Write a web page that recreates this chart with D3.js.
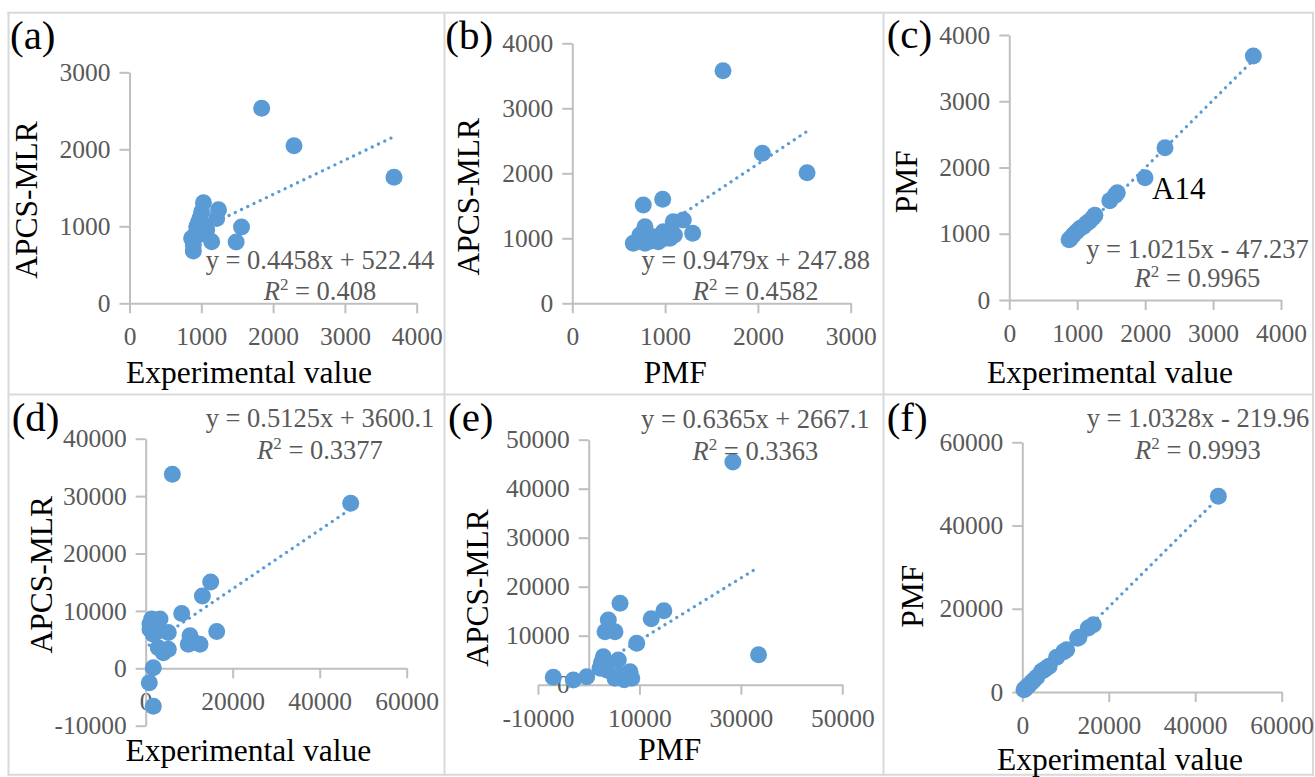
<!DOCTYPE html>
<html>
<head>
<meta charset="utf-8">
<script src="https://cdn.jsdelivr.net/npm/d3@7"></script>
<style>
    body { margin: 0; background: #fff; }
    svg text { font-family: "Liberation Serif", "Tinos", "Times New Roman", "DejaVu Serif", "Noto Serif", "FreeSerif", serif; }
</style>
</head>
<body>
<script>
// Six scatter panels, APCS-MLR / PMF / experimental values

var panelNames = ["(a)", "(b)", "(c)", "(d)", "(e)", "(f)"];
var xTitles = ["Experimental value", "PMF", "Experimental value", "Experimental value", "PMF", "Experimental value"];
var yTitles = ["APCS-MLR", "APCS-MLR", "PMF", "APCS-MLR", "APCS-MLR", "PMF"];

// (a) experimental vs APCS-MLR
var aX = [1841, 2291, 3684, 1030, 1240, 1214, 1560, 1485, 1145, 889, 982, 936, 912, 1075, 889, 1005, 866, 960, 1000, 1040];
var aY = [2532, 2047, 1636, 1305, 1215, 1100, 990, 795, 800, 680, 1104, 995, 887, 952, 757, 1190, 844, 1050, 900, 1010];

// (b) PMF vs APCS-MLR
var bX = [1624, 2048, 2530, 765, 974, 1196, 1088, 1297, 783, 981, 873, 657, 1053, 783, 927, 729, 1100, 850, 1000];
var bY = [3579, 2308, 2010, 1512, 1600, 1282, 1255, 1077, 1178, 1102, 1025, 923, 1000, 923, 948, 1051, 1050, 960, 1000];

// (c) experimental vs PMF
var cX = [3593, 2292, 1998, 1590, 1560, 1480, 1260, 1230, 1180, 1140, 1090, 1040, 990, 943, 900, 880];
var cY = [3683, 2299, 1847, 1620, 1580, 1500, 1280, 1240, 1190, 1160, 1110, 1080, 1030, 981, 930, 910];

// (d) experimental vs APCS-MLR
var dX = [6130, 47126, 14943, 13027, 8276, 16322, 10184, 12483, 9793, 5195, 1379, 3287, 989, 1747, 2897, 5195, 4046, 1747, 828, 1747, 989, 2500, 11000];
var dY = [33819, 28746, 15044, 12595, 9550, 6400, 5650, 4200, 4200, 6230, 8570, 8570, 6820, 5950, 3600, 3320, 2730, 105, -2520, -6600, 7700, 7800, 4600];

// (e) PMF vs APCS-MLR
var eX = [28426, 33486, 6174, 14821, 12324, 3866, 3215, 5187, 9467, 5838, 2880, 2229, 6174, 8146, 8479, 5187, -394, -3037, -6982, 3550, 2500, 7000];
var eY = [45442, 6122, 16612, 15102, 13469, 13204, 10816, 10816, 8449, 5041, 5714, 3347, 1980, 2653, 1306, 1306, 1633, 959, 1510, 3000, 4500, 1000];

// (f) experimental vs PMF
var fX = [45350, 16429, 15272, 13111, 10258, 7944, 5631, 4474, 3317, 2160, 1003, 386, 12800, 9600, 6200, 5000, 2700, 1500, 700];
var fY = [47017, 16181, 15380, 13137, 10172, 8330, 5767, 4966, 3524, 2323, 1201, 561, 12900, 9700, 6200, 5300, 2900, 1600, 800];

// linear trendlines as printed on the chart
var slopes = [0.4458, 0.9479, 1.0215, 0.5125, 0.6365, 1.0328];
var intercepts = [522.44, 247.88, -47.237, 3600.1, 2667.1, -219.96];
var r2 = ["0.408", "0.4582", "0.9965", "0.3377", "0.3363", "0.9993"];

var xTicks = [
    [0, 1000, 2000, 3000, 4000],
    [0, 1000, 2000, 3000],
    [0, 1000, 2000, 3000, 4000],
    [0, 20000, 40000, 60000],
    [-10000, 10000, 30000, 50000],
    [0, 20000, 40000, 60000]
];
var yTicks = [
    [0, 1000, 2000, 3000],
    [0, 1000, 2000, 3000, 4000],
    [0, 1000, 2000, 3000, 4000],
    [-10000, 0, 10000, 20000, 30000, 40000],
    [0, 10000, 20000, 30000, 40000, 50000],
    [0, 20000, 40000, 60000]
];

var pointLabels = [{ panel: 2, index: 2, text: "A14" }];

var xs = [aX, bX, cX, dX, eX, fX];
var ys = [aY, bY, cY, dY, eY, fY];

// pixel layout of every panel (plot ranges, label / title / equation spots)
var layout = [
    { x0: 129.5, x1: 416.7, y0: 303.3, y1: 72.3, lab: [10, 49.3], eq: [320, 269.3, 300], xt: [249, 382.7], yt: [36.7, 200] },
    { x0: 572.3, x1: 850.7, y0: 303.3, y1: 43.3, lab: [445.3, 49.3], eq: [755.7, 269.3, 300], xt: [675.3, 383.3], yt: [478.7, 196.7] },
    { x0: 1009.3, x1: 1281, y0: 300, y1: 35, lab: [886.7, 48.3], eq: [1197.5, 258.3, 287.3], xt: [1110, 383], yt: [916.7, 181.7] },
    { x0: 145.7, x1: 406.7, y0: 725.7, y1: 438.7, lab: [11.7, 431.3], eq: [320, 427.3, 459], xt: [248.3, 761.3], yt: [51.7, 574.7] },
    { x0: 538, x1: 842.3, y0: 684.7, y1: 439.7, lab: [448, 431.3], eq: [755.4, 428, 459.7], xt: [669.7, 759.7], yt: [488, 588] },
    { x0: 1022.3, x1: 1281.7, y0: 692, y1: 442.3, lab: [886.7, 431.3], eq: [1198, 427.3, 459], xt: [1120, 769.7], yt: [923.3, 596.3] }
];

var blue = "#5B9BD5";
var axisGray = "#BFBFBF";
var textGray = "#595959";

var svg = d3.select("body").append("svg")
    .attr("width", 1315)
    .attr("height", 777);

// whatever serif face we get, size it so "0000" is as wide as in Times
var probe = svg.append("text").attr("font-size", 100).text("0000");
var fontScale = 200 / probe.node().getComputedTextLength();
probe.remove();
function fs(px) { return (px * fontScale).toFixed(2) + "px"; }

// light frame around the six panels
var frameX = [8.5, 444.5, 883.5, 1313];
var frameY = [12.7, 394.5, 774.7];
frameX.forEach(function (x) {
    svg.append("line").attr("x1", x).attr("x2", x).attr("y1", frameY[0] - 1).attr("y2", frameY[2] + 1)
        .attr("stroke", "#D9D9D9").attr("stroke-width", 2);
});
frameY.forEach(function (y) {
    svg.append("line").attr("x1", frameX[0] - 1).attr("x2", frameX[3] + 1).attr("y1", y).attr("y2", y)
        .attr("stroke", "#D9D9D9").attr("stroke-width", 2);
});

var tickFont = 25.5;

layout.forEach(function (L, i) {
    var xt = xTicks[i], yt = yTicks[i];
    var xScale = d3.scaleLinear().domain([xt[0], xt[xt.length - 1]]).range([L.x0, L.x1]);
    var yScale = d3.scaleLinear().domain([yt[0], yt[yt.length - 1]]).range([L.y0, L.y1]);

    var g = svg.append("g").attr("class", "panel");

    // axes cross at zero; x labels sit ~42px under the axis line
    var xAxis = d3.axisBottom(xScale).tickValues(xt).tickSize(10).tickSizeOuter(0)
        .tickPadding(42 - 10 - 0.71 * tickFont * fontScale)
        .tickFormat(function (d) { return String(d); });
    var yAxis = d3.axisLeft(yScale).tickValues(yt).tickSize(10).tickSizeOuter(0).tickPadding(9)
        .tickFormat(function (d) { return String(d); });

    var xg = g.append("g").attr("transform", "translate(0," + yScale(0) + ")").call(xAxis);
    var yg = g.append("g").attr("transform", "translate(" + xScale(0) + ",0)").call(yAxis);

    [xg, yg].forEach(function (ag) {
        ag.attr("font-family", null);
        ag.select(".domain").attr("stroke", axisGray).attr("stroke-width", 2);
        ag.selectAll(".tick line").attr("stroke", axisGray).attr("stroke-width", 2);
        ag.selectAll(".tick text").attr("fill", textGray).attr("font-size", fs(tickFont));
    });

    // trendline, clipped to the plot area
    var clipId = "clip" + i;
    svg.append("clipPath").attr("id", clipId).append("rect")
        .attr("x", L.x0).attr("y", L.y1).attr("width", L.x1 - L.x0).attr("height", L.y0 - L.y1);

    var xmin = d3.min(xs[i]), xmax = d3.max(xs[i]);
    g.append("line")
        .attr("clip-path", "url(#" + clipId + ")")
        .attr("x1", xScale(xmin)).attr("y1", yScale(slopes[i] * xmin + intercepts[i]))
        .attr("x2", xScale(xmax)).attr("y2", yScale(slopes[i] * xmax + intercepts[i]))
        .attr("stroke", blue).attr("stroke-width", 3.2)
        .attr("stroke-linecap", "round").attr("stroke-dasharray", "0.1 6.8");

    // points
    g.selectAll(".dot")
        .data(xs[i].map(function (x, k) { return { x: x, y: ys[i][k] }; }))
        .enter().append("circle")
        .attr("class", "dot")
        .attr("cx", function (d) { return xScale(d.x); })
        .attr("cy", function (d) { return yScale(d.y); })
        .attr("r", 8.5)
        .attr("fill", blue);

    // equation + R2
    var b = intercepts[i];
    var eqText = "y = " + slopes[i] + "x " + (b < 0 ? "- " : "+ ") + Math.abs(b);
    g.append("text")
        .attr("x", L.eq[0]).attr("y", L.eq[1])
        .attr("text-anchor", "middle").attr("font-size", fs(26.5)).attr("fill", textGray)
        .text(eqText);
    var r2t = g.append("text")
        .attr("x", L.eq[0]).attr("y", L.eq[2])
        .attr("text-anchor", "middle").attr("font-size", fs(26.5)).attr("fill", textGray);
    r2t.append("tspan").attr("font-style", "italic").text("R");
    r2t.append("tspan").attr("font-size", fs(17)).attr("dy", "-10").text("2");
    r2t.append("tspan").attr("dy", "10").text(" = " + r2[i]);

    // titles
    g.append("text")
        .attr("x", L.xt[0]).attr("y", L.xt[1])
        .attr("text-anchor", "middle").attr("font-size", fs(31.5)).attr("fill", "#000")
        .text(xTitles[i]);
    g.append("text")
        .attr("transform", "translate(" + L.yt[0] + "," + L.yt[1] + ") rotate(-90)")
        .attr("text-anchor", "middle").attr("font-size", fs(31.5)).attr("fill", "#000")
        .text(yTitles[i]);

    g.append("text")
        .attr("x", L.lab[0]).attr("y", L.lab[1])
        .attr("font-size", fs(41)).attr("fill", "#000")
        .text(panelNames[i]);

    // point annotations
    pointLabels.filter(function (p) { return p.panel == i; }).forEach(function (p) {
        g.append("text")
            .attr("x", xScale(xs[i][p.index]) + 7)
            .attr("y", yScale(ys[i][p.index]) + 21)
            .attr("font-size", fs(31)).attr("fill", "#000")
            .text(p.text);
    });
});
</script>
</body>
</html>
